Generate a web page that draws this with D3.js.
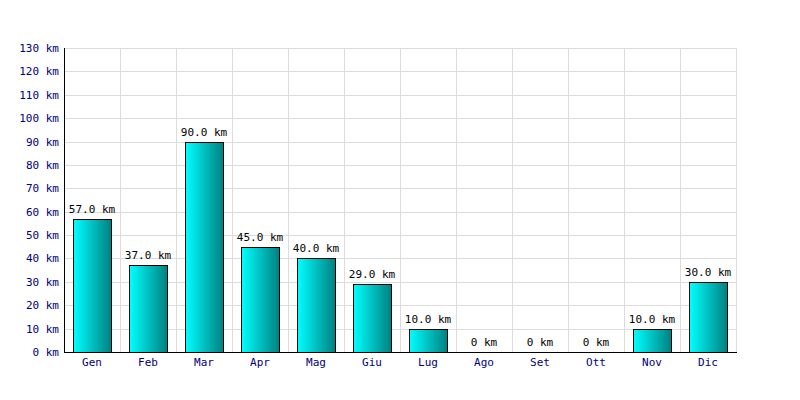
<!DOCTYPE html>
<html><head><meta charset="utf-8">
<script src="https://cdn.jsdelivr.net/npm/d3@7"></script>
<style>body{margin:0;background:#fff}svg{display:block}</style>
</head><body>
<script>
const months = ["Gen","Feb","Mar","Apr","Mag","Giu","Lug","Ago","Set","Ott","Nov","Dic"];
const values = [57,37,90,45,40,29,10,0,0,0,10,30];
const yTicks = [0,10,20,30,40,50,60,70,80,90,100,110,120,130];

const W=800,H=400, L=65, R=737, T=48, B=352;
const svg=d3.select("body").append("svg").attr("width",W).attr("height",H);
const x=d3.scaleBand().domain(months).range([L,R]).paddingInner(0).paddingOuter(0);
const y=d3.scaleLinear().domain([0,130]).range([B,T]);
const font="'DejaVu Sans Mono', monospace";

const defs=svg.append("defs");
const g=defs.append("linearGradient").attr("id","bg").attr("x1","0").attr("x2","1").attr("y1","0").attr("y2","0");
g.append("stop").attr("offset","0").attr("stop-color","#00ffff");
g.append("stop").attr("offset","1").attr("stop-color","#008080");

const data=values.map((v,i)=>({m:months[i],v}));

// grid
svg.append("g").selectAll("line").data(yTicks).join("line")
 .attr("x1",L).attr("x2",R).attr("y1",d=>Math.round(y(d))+0.5).attr("y2",d=>Math.round(y(d))+0.5)
 .attr("stroke","#dcdcdc").attr("stroke-width",1);
const bounds=months.map(m=>x(m)).concat([R]);
svg.append("g").selectAll("line").data(bounds).join("line")
 .attr("x1",d=>Math.round(d)-0.5).attr("x2",d=>Math.round(d)-0.5).attr("y1",T).attr("y2",B)
 .attr("stroke","#dcdcdc").attr("stroke-width",1);

// bars
const bw=38;
svg.append("g").selectAll("rect").data(data.filter(d=>d.v>0)).join("rect")
 .attr("x",d=>Math.round(x(d.m)+x.bandwidth()/2-bw/2)-0.5)
 .attr("y",d=>Math.round(y(d.v))+0.5)
 .attr("width",bw).attr("height",d=>Math.round(y(0))-Math.round(y(d.v)))
 .attr("fill","url(#bg)").attr("stroke","#000").attr("stroke-width",1);

// value labels
svg.append("g").selectAll("text").data(data).join("text")
 .attr("x",d=>x(d.m)+x.bandwidth()/2-1)
 .attr("y",d=>y(d.v)-6)
 .attr("text-anchor","middle").attr("font-family",font).attr("font-size","11px").attr("fill","#000")
 .text(d=>d.v===0?"0 km":d.v.toFixed(1)+" km");

// axes lines
svg.append("line").attr("x1",L-0.5).attr("x2",L-0.5).attr("y1",T).attr("y2",B+0.5).attr("stroke","#000");
svg.append("line").attr("x1",L-1).attr("x2",R).attr("y1",B+0.5).attr("y2",B+0.5).attr("stroke","#000");

// y tick labels
svg.append("g").selectAll("text").data(yTicks).join("text")
 .attr("x",L-6).attr("y",d=>y(d)+4)
 .attr("text-anchor","end").attr("font-family",font).attr("font-size","11px").attr("fill","#000080")
 .text(d=>d+" km");

// x labels
svg.append("g").selectAll("text").data(months).join("text")
 .attr("x",d=>x(d)+x.bandwidth()/2-1).attr("y",B+14)
 .attr("text-anchor","middle").attr("font-family",font).attr("font-size","11px").attr("fill","#000080")
 .text(d=>d);
</script>
</body></html>
